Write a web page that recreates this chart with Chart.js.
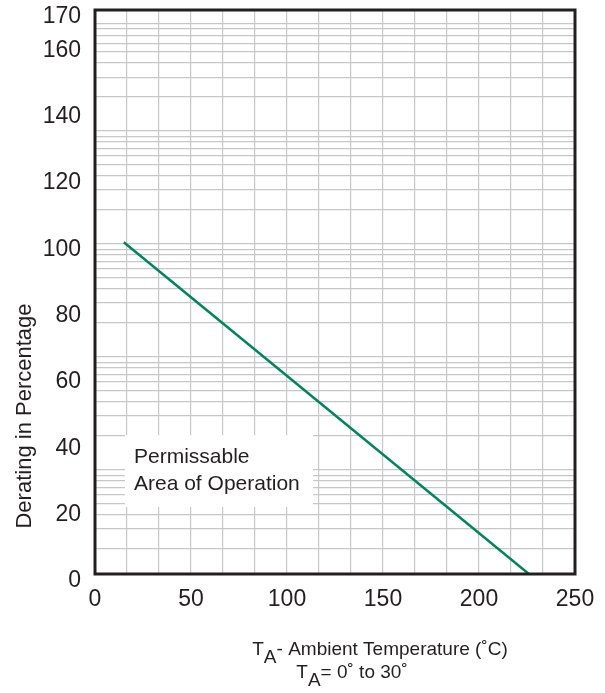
<!DOCTYPE html>
<html>
<head>
<meta charset="utf-8">
<script src="https://cdn.jsdelivr.net/npm/chart.js@4.4.1/dist/chart.umd.min.js"></script>
<style>
  html, body { margin: 0; padding: 0; background: #fff; }
  #wrap { width: 605px; height: 693px; position: relative; }
</style>
</head>
<body>
<div id="wrap"><canvas id="deratingChart"></canvas></div>
<script>
// derating curve
const tempC = [15, 226];
const deratingPct = [100, 0];

const xTicks = [0, 50, 100, 150, 200, 250];
const yTicks = [0, 20, 40, 60, 80, 100, 120, 140, 160, 170];

// background graph paper: 15 vertical divisions, semi-log horizontal rulings
const xGridDivisions = 15;
const logGridDecades = [-1, 0, 1, 2, 3];

const ink = '#231f20';
const gridGrey = '#c5c7c9';
const font = '"Liberation Sans", Arial, sans-serif';

const paperPlugin = {
  id: 'paper',
  beforeDatasetsDraw(chart) {
    const { ctx, chartArea: a } = chart;
    // white label box over the grid
    ctx.save();
    ctx.fillStyle = '#fff';
    ctx.fillRect(a.left + 30, a.top + 425, 188, 72);
    ctx.fillStyle = ink;
    ctx.font = '21px ' + font;
    ctx.textBaseline = 'alphabetic';
    ctx.fillText('Permissable', a.left + 39, a.top + 453);
    ctx.fillText('Area of Operation', a.left + 39, a.top + 480);
    ctx.restore();
  },
  afterDraw(chart) {
    const { ctx, chartArea: a } = chart;
    ctx.save();
    ctx.strokeStyle = ink;
    ctx.lineWidth = 3;
    ctx.strokeRect(a.left, a.top, a.right - a.left, a.bottom - a.top);

    ctx.fillStyle = ink;
    // y title
    ctx.font = '22px ' + font;
    ctx.translate(25, 416);
    ctx.rotate(-Math.PI / 2);
    ctx.textAlign = 'center';
    ctx.textBaseline = 'middle';
    ctx.fillText('Derating in Percentage', 0, 0);
    ctx.setTransform(1, 0, 0, 1, 0, 0);

    // x title, two lines with subscript A
    ctx.font = '19px ' + font;
    ctx.textAlign = 'left';
    ctx.textBaseline = 'alphabetic';
    const drawSub = (rest, cx, base) => {
      const wT = ctx.measureText('T').width;
      const wA = ctx.measureText('A').width;
      const wR = ctx.measureText(rest).width;
      let x = cx - (wT + wA + wR) / 2;
      ctx.fillText('T', x, base);
      ctx.fillText('A', x + wT, base + 8);
      ctx.fillText(rest, x + wT + wA, base);
    };
    drawSub('- Ambient Temperature (˚C)', 380, 655);
    drawSub('= 0˚ to 30˚', 352, 678);
    ctx.restore();
  }
};

new Chart(document.getElementById('deratingChart'), {
  type: 'line',
  data: {
    datasets: [{
      data: tempC.map((t, i) => ({ x: t, y: deratingPct[i] })),
      borderColor: '#00855a',
      borderWidth: 2.5,
      pointRadius: 0,
      fill: false,
      tension: 0
    }]
  },
  options: {
    responsive: true,
    maintainAspectRatio: false,
    animation: false,
    devicePixelRatio: 1,
    layout: { padding: { top: 10, right: 30, left: 0, bottom: 0 } },
    plugins: { legend: { display: false }, tooltip: { enabled: false } },
    scales: {
      x: {
        type: 'linear',
        min: 0,
        max: 250,
        afterBuildTicks: s => { s.ticks = xTicks.map(v => ({ value: v })); },
        afterFit: s => { s.height = 119; s.paddingLeft = 0; s.paddingRight = 0; },
        grid: { display: false, drawTicks: false },
        border: { display: false },
        ticks: { color: ink, font: { family: font, size: 23 }, padding: 12, maxRotation: 0 }
      },
      xGrid: {
        type: 'linear',
        position: 'top',
        min: 0,
        max: 250,
        afterBuildTicks: s => {
          const t = [];
          for (let k = 1; k < xGridDivisions; k++) t.push({ value: 250 * k / xGridDivisions });
          s.ticks = t;
        },
        afterFit: s => { s.height = 0; s.paddingLeft = 0; s.paddingRight = 0; },
        grid: { color: gridGrey, lineWidth: 1.2, drawTicks: false },
        border: { display: false },
        ticks: { display: false }
      },
      y: {
        type: 'linear',
        min: 0,
        max: 170,
        afterBuildTicks: s => { s.ticks = yTicks.map(v => ({ value: v })); },
        afterFit: s => { s.width = 95; s.paddingTop = 0; s.paddingBottom = 0; },
        grid: { display: false, drawTicks: false },
        border: { display: false },
        ticks: { color: ink, font: { family: font, size: 23 }, padding: 14, labelOffset: 7 }
      },
      yGrid: {
        type: 'logarithmic',
        position: 'right',
        min: 0.12,
        max: 11780,
        afterBuildTicks: s => {
          const t = [];
          logGridDecades.forEach(e => {
            for (let k = 1; k <= 9; k++) {
              const v = k * Math.pow(10, e);
              if (v > s.min && v < s.max) t.push({ value: v });
            }
          });
          s.ticks = t;
        },
        afterFit: s => { s.width = 0; s.paddingTop = 0; s.paddingBottom = 0; },
        grid: { color: gridGrey, lineWidth: 1.2, drawTicks: false },
        border: { display: false },
        ticks: { display: false }
      }
    }
  },
  plugins: [paperPlugin]
});
</script>
</body>
</html>
